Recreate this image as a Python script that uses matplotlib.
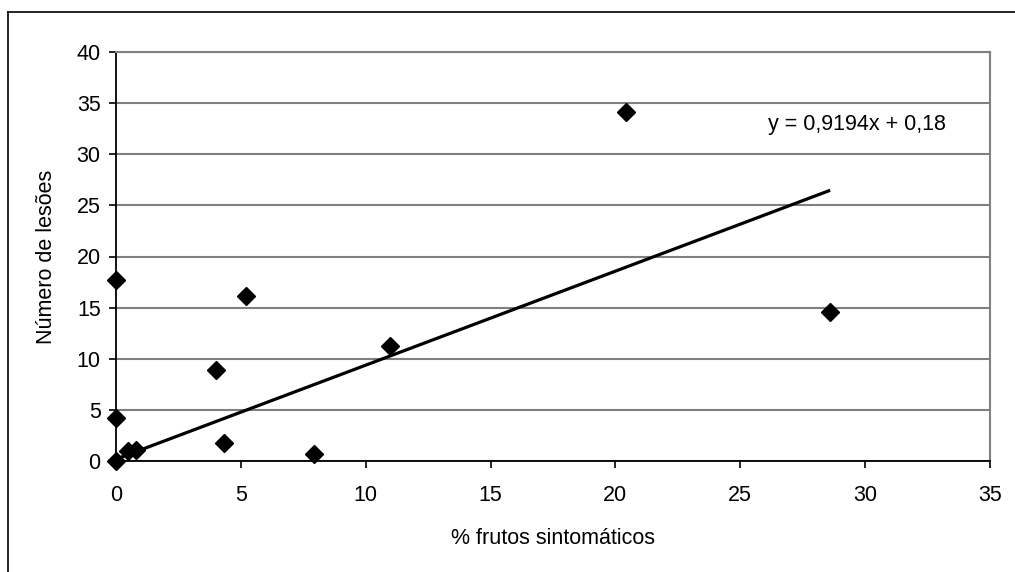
import matplotlib
matplotlib.use("Agg")
import matplotlib.pyplot as plt
from matplotlib.lines import Line2D
import numpy as np

plt.rcParams['font.family'] = ['Liberation Sans', 'DejaVu Sans']

x_vals = [0.0, 0.0, 0.0, 0.48, 0.8, 4.0, 4.33, 5.2, 7.93, 10.97, 20.42, 28.6]
y_vals = [17.7, 4.2, 0.0, 0.98, 1.1, 8.9, 1.76, 16.1, 0.68, 11.25, 34.1, 14.6]
slope = 0.9194
intercept = 0.18
eq_label = "y = 0,9194x + 0,18"
x_ticks = [0, 5, 10, 15, 20, 25, 30, 35]
y_ticks = [0, 5, 10, 15, 20, 25, 30, 35, 40]

W, H = 1015, 572
fig = plt.figure(figsize=(W / 100, H / 100), dpi=100)
ax = fig.add_axes([116 / W, 1 - 461 / H, (990 - 116) / W, (461 - 52) / H])

FS = 15.5
ax.set_xlim(0, 35)
ax.set_ylim(0, 40)
ax.set_xticks(x_ticks)
ax.set_yticks(y_ticks)
ax.yaxis.grid(True, color='#808080', linewidth=1.5)
ax.set_axisbelow(True)

for side in ['top', 'right']:
    ax.spines[side].set_color('#808080')
    ax.spines[side].set_linewidth(1.5)
for side in ['left', 'bottom']:
    ax.spines[side].set_color('black')
    ax.spines[side].set_linewidth(1.3)

ax.tick_params(axis='both', direction='out', length=5, width=1.2, labelsize=FS, colors='black')
ax.tick_params(axis='x', pad=12)
ax.tick_params(axis='y', pad=6)

xl = np.array([0, max(x_vals)])
ax.plot(xl, slope * xl + intercept, color='black', linewidth=2.3, solid_capstyle='butt', zorder=3)
ax.plot(x_vals, y_vals, linestyle='none', marker='D', markersize=9.5, color='black', clip_on=False, zorder=4)

ax.text(26.1, 32.9, eq_label, fontsize=FS, ha='left', va='center')

ax.set_xlabel('% frutos sintomáticos', fontsize=FS, labelpad=16)
ax.set_ylabel('Número de lesões', fontsize=FS, labelpad=14)

fig.add_artist(Line2D([8 / W, 8 / W], [0, 1 - 12 / H], color='black', linewidth=1.2, transform=fig.transFigure))
fig.add_artist(Line2D([8 / W, 1], [1 - 12 / H, 1 - 12 / H], color='black', linewidth=1.2, transform=fig.transFigure))

fig.savefig('out.png', dpi=100, facecolor='white')
